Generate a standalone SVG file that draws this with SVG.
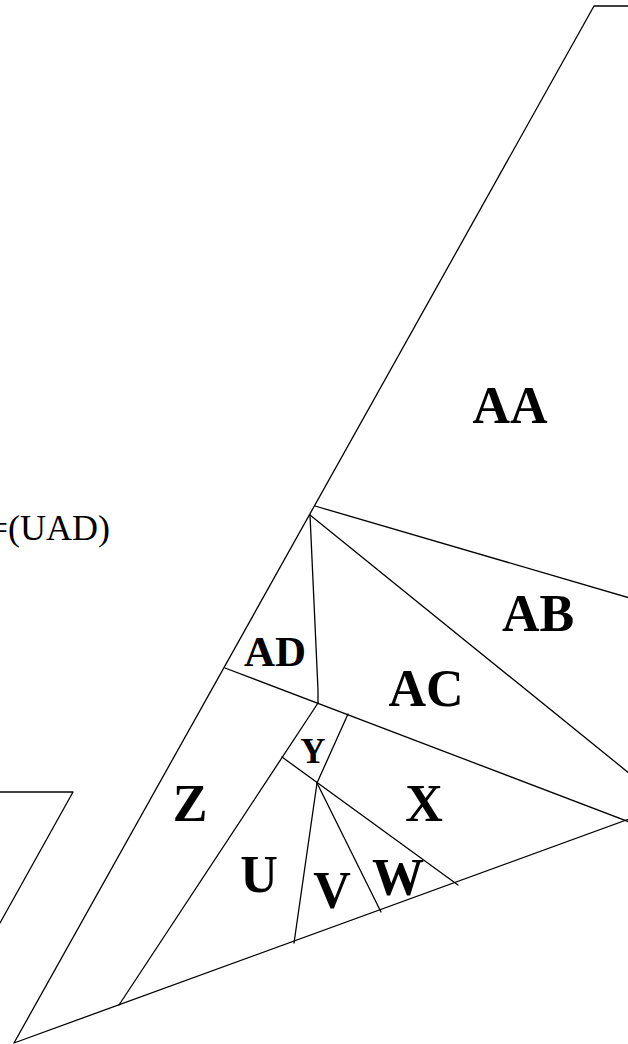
<svg xmlns="http://www.w3.org/2000/svg" width="628" height="1044" viewBox="0 0 628 1044">
<style>
.l{fill:none;stroke:#000;stroke-width:1.3;stroke-linecap:round;stroke-linejoin:round}
.t{font-family:"Liberation Serif","Times New Roman",serif;font-weight:bold;fill:#000;text-anchor:middle}
.r{font-family:"Liberation Serif","Times New Roman",serif;fill:#000}
</style>
<rect width="628" height="1044" fill="#fff"/>
<g id="connectors">
<polyline class="l" points="640,6 594,6 14,1043 640,815"/>
<polyline class="l" points="0,792 73,792 0,923"/>
<line class="l" x1="315" y1="506" x2="640" y2="601"/>
<line class="l" x1="310" y1="515" x2="640" y2="782"/>
<polyline class="l" points="310,515 318,690 318,703"/>
<line class="l" x1="225" y1="668" x2="640" y2="826"/>
<line class="l" x1="318" y1="703" x2="119" y2="1005"/>
<line class="l" x1="348" y1="714" x2="317" y2="783"/>
<line class="l" x1="282" y1="757" x2="458" y2="885"/>
<line class="l" x1="317" y1="783" x2="294" y2="943"/>
<line class="l" x1="317" y1="783" x2="381" y2="912"/>
</g>
<g id="AA"><text class="t" x="510" y="423" font-size="52">AA</text></g>
<g id="AB"><text class="t" x="538" y="631" font-size="52">AB</text></g>
<g id="AC"><text class="t" x="426" y="706" font-size="52">AC</text></g>
<g id="AD"><text class="t" x="275" y="666" font-size="43">AD</text></g>
<g id="Y"><text class="t" x="313" y="763" font-size="35">Y</text></g>
<g id="Z"><text class="t" x="190" y="821" font-size="52">Z</text></g>
<g id="X"><text class="t" x="424" y="821" font-size="52">X</text></g>
<g id="U"><text class="t" x="259" y="892" font-size="52">U</text></g>
<g id="V"><text class="t" x="332" y="908" font-size="52">V</text></g>
<g id="W"><text class="t" x="398" y="895" font-size="52">W</text></g>
<g id="eq"><text class="r" x="110" y="540" font-size="36" text-anchor="end">=(UAD)</text></g>
</svg>
